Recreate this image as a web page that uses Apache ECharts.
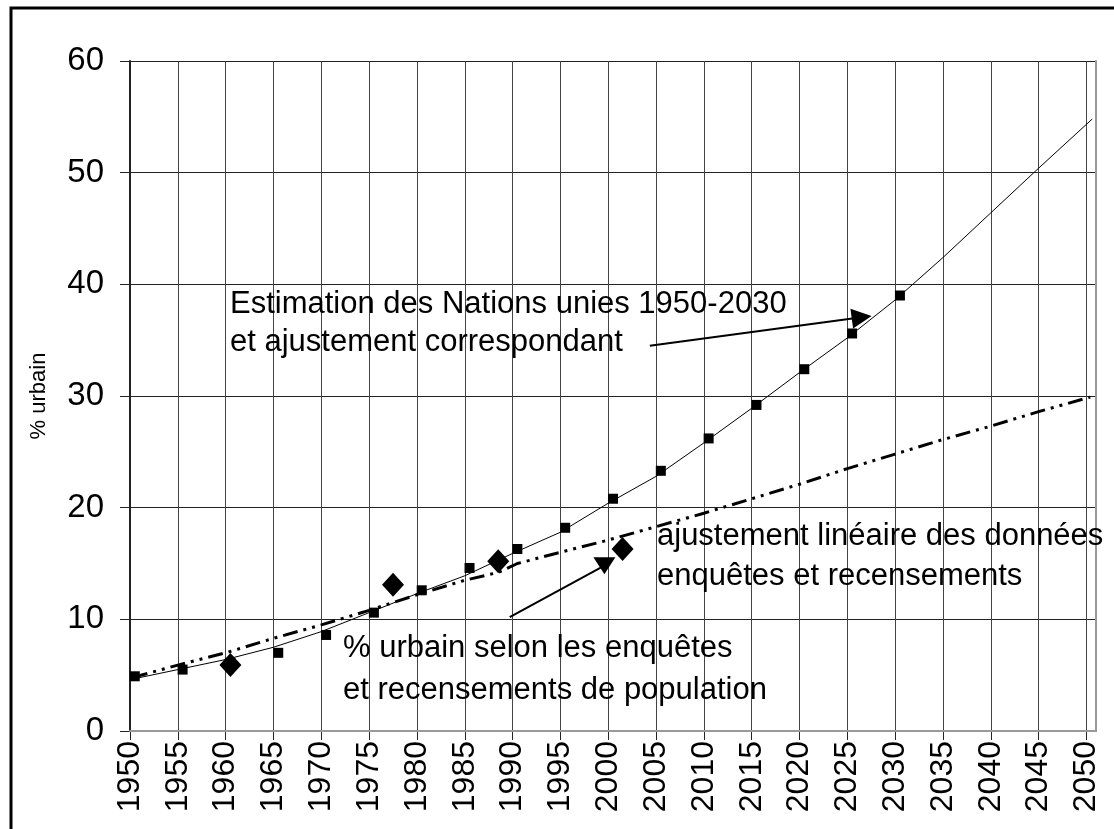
<!DOCTYPE html>
<html>
<head>
<meta charset="utf-8">
<script src="https://cdn.jsdelivr.net/npm/echarts@6/dist/echarts.min.js"></script>
<style>
  html, body { margin: 0; padding: 0; background: #fff; }
  #chart { width: 1114px; height: 829px; }
</style>
</head>
<body>
<div id="chart"></div>
<script>
// estimations des Nations unies (carrés)
const unYears = [1950.5, 1955.5, 1960.5, 1965.5, 1970.5, 1975.5, 1980.5, 1985.5, 1990.5, 1995.5, 2000.5, 2005.5, 2010.5, 2015.5, 2020.5, 2025.5, 2030.5];
const unValues = [4.9, 5.5, 6.1, 7.0, 8.6, 10.6, 12.6, 14.6, 16.3, 18.2, 20.8, 23.3, 26.2, 29.2, 32.4, 35.6, 39.0];

// ajustement correspondant (trait fin)
const fitYears = [1950, 1955, 1960, 1965, 1970, 1975, 1980, 1985, 1990, 1995, 2000, 2005, 2010, 2015, 2020, 2025, 2030, 2035, 2040, 2045, 2050.6];
const fitValues = [4.6, 5.5, 6.4, 7.5, 8.9, 10.6, 12.3, 13.9, 15.9, 17.8, 20.4, 22.8, 25.8, 28.9, 32.1, 35.2, 38.6, 42.4, 46.4, 50.4, 54.8];

// ajustement linéaire enquêtes / recensements (tiret-point)
const linYears = [1950.3, 1955, 1960, 1965, 1970, 1975, 1980, 1985, 1988.5, 1990.5, 1995, 2000, 2005, 2010, 2015, 2020, 2025, 2030, 2035, 2040, 2045, 2050.4];
const linValues = [4.8, 5.9, 7.0, 8.3, 9.5, 10.8, 12.2, 13.5, 14.2, 15.0, 16.0, 17.1, 18.3, 19.5, 20.8, 22.1, 23.5, 24.8, 26.1, 27.3, 28.6, 29.9];

// enquêtes et recensements (losanges)
const surveyYears = [1960.5, 1977.5, 1988.5, 2001.5];
const surveyValues = [5.9, 13.1, 15.2, 16.3];

// flèches d'annotation [départ, arrivée]
const arrowUN = [[2004.35, 34.5], [2026.5, 37.05]];
const arrowSurvey = [[1989.7, 10.2], [1999.6, 14.8]];

const zip = (xs, ys) => xs.map((x, i) => [x, ys[i]]);

const FONT = '"Liberation Sans", Arial, sans-serif';
const chart = echarts.init(document.getElementById('chart'));

const textEl = (x, y, t) => ({
  type: 'text', left: x, top: y - 16, z: 50,
  style: { text: t, font: '31px ' + FONT, fill: '#000' }
});

chart.setOption({
  animation: false,
  grid: { left: 130, top: 61, right: 18, bottom: 98 },
  xAxis: [{
    type: 'value', min: 1950, max: 2051, interval: 5,
    axisLine: { show: true, onZero: false, lineStyle: { color: '#222', width: 2 } },
    axisTick: { show: true, length: 9, lineStyle: { color: '#222' } },
    axisLabel: {
      rotate: 90, margin: 10, color: '#000', fontSize: 32, fontFamily: FONT, showMaxLabel: false,
      formatter: v => String(v)
    },
    splitLine: { show: true, lineStyle: { color: '#444', width: 1 } }
  }, {
    type: 'value', position: 'top', min: 1950, max: 2051, z: 5,
    axisLine: { show: true, lineStyle: { color: '#999', width: 2 } },
    axisTick: { show: false }, axisLabel: { show: false }, splitLine: { show: false }
  }],
  yAxis: [{
    type: 'value', min: 0, max: 60, interval: 10,
    name: '% urbain', nameLocation: 'middle', nameRotate: 90, nameGap: 80,
    nameTextStyle: { fontSize: 22, fontFamily: FONT, color: '#000' },
    axisLine: { show: true, lineStyle: { color: '#222', width: 2 } },
    axisTick: { show: true, length: 10, lineStyle: { color: '#222' } },
    axisLabel: { margin: 26, color: '#000', fontSize: 33, fontFamily: FONT },
    splitLine: { show: true, lineStyle: { color: '#222', width: 1 } }
  }, {
    type: 'value', position: 'right', min: 0, max: 60, z: 5,
    axisLine: { show: true, lineStyle: { color: '#999', width: 2 } },
    axisTick: { show: false }, axisLabel: { show: false }, splitLine: { show: false }
  }],
  series: [
    {
      name: 'ajustement NU', type: 'line', data: zip(fitYears, fitValues),
      showSymbol: false, symbol: 'none', z: 3,
      lineStyle: { color: '#000', width: 1 }
    },
    {
      name: 'ajustement linéaire', type: 'line', data: zip(linYears, linValues),
      showSymbol: false, symbol: 'none', z: 3,
      lineStyle: { color: '#000', width: 3, type: [15, 6, 3, 6, 3, 6] }
    },
    {
      name: 'Estimation NU', type: 'scatter', data: zip(unYears, unValues),
      symbol: 'rect', symbolSize: 10, z: 4,
      itemStyle: { color: '#000', opacity: 1 }
    },
    {
      name: 'enquêtes', type: 'scatter', data: zip(surveyYears, surveyValues),
      symbol: 'diamond', symbolSize: [22, 24], z: 6,
      itemStyle: { color: '#000', opacity: 1 }
    },
    {
      name: 'flèches', type: 'line', data: [], z: 7,
      markLine: {
        silent: true, animation: false,
        label: { show: false },
        lineStyle: { color: '#000', width: 2, type: 'solid' },
        symbolSize: 20,
        data: [
          [{ coord: arrowUN[0], symbol: 'none' }, { coord: arrowUN[1], symbol: 'triangle' }],
          [{ coord: arrowSurvey[0], symbol: 'none' }, { coord: arrowSurvey[1], symbol: 'triangle', symbolRotate: 180, symbolSize: [22, 17] }]
        ]
      }
    }
  ],
  graphic: [
    { type: 'rect', z: 100, silent: true, shape: { x: 11, y: 8, width: 1120, height: 840 },
      style: { fill: 'none', stroke: '#000', lineWidth: 3 } },
    textEl(230, 305, 'Estimation des Nations unies 1950-2030'),
    textEl(230, 343, 'et ajustement correspondant'),
    textEl(343, 649, '% urbain selon les enquêtes'),
    textEl(343, 691, 'et recensements de population'),
    textEl(657, 537, 'ajustement linéaire des données'),
    textEl(657, 577, 'enquêtes et recensements')
  ]
});
</script>
</body>
</html>
